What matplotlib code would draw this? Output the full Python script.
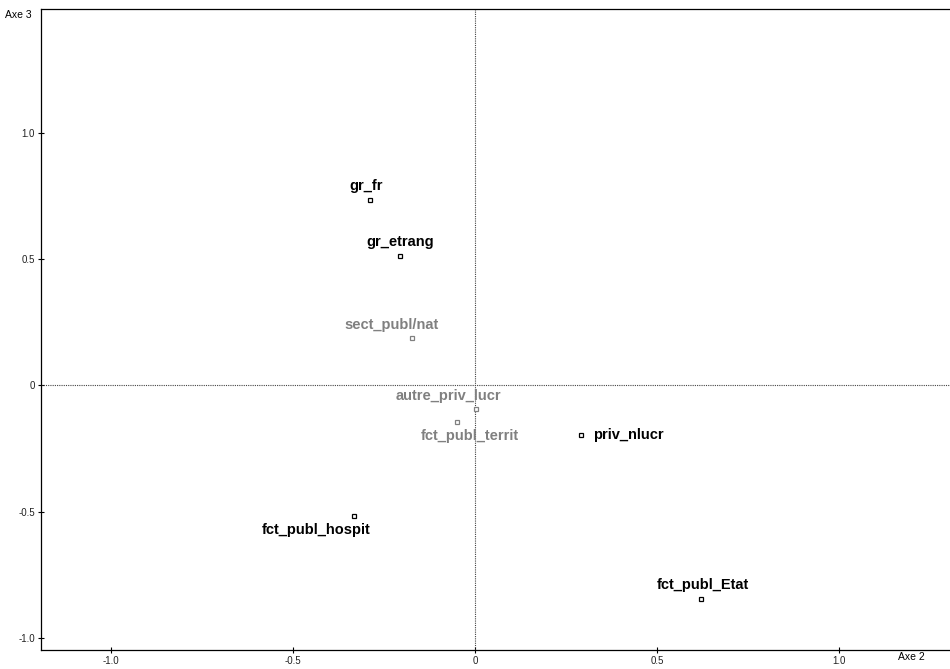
import matplotlib.pyplot as plt

plt.rcParams['font.family'] = ['Liberation Sans', 'DejaVu Sans']

labels = ["gr_fr", "gr_etrang", "sect_publ/nat", "autre_priv_lucr", "fct_publ_territ",
          "priv_nlucr", "fct_publ_hospit", "fct_publ_Etat"]
axe2 = [-0.288, -0.206, -0.173, 0.003, -0.049, 0.291, -0.332, 0.621]
axe3 = [0.735, 0.514, 0.186, -0.095, -0.146, -0.198, -0.518, -0.846]
active = [True, True, False, False, False, True, True, True]

# label placement: (dx, dy) in points, ha, va
place = [(-3, 5, "center", "bottom"), (0, 5, "center", "bottom"), (-15, 5, "center", "bottom"),
         (-20, 5, "center", "bottom"), (9, -5, "center", "top"), (9, 0, "left", "center"),
         (-27, -5, "center", "top"), (1, 5, "center", "bottom")]

fig = plt.figure(figsize=(9.5, 6.69), dpi=100)
ax = fig.add_axes([41 / 950, 19 / 669, 1 - 41 / 950, 1 - 28 / 669])

ax.axhline(0, color="#444444", lw=0.8, ls=(0, (1, 1)))
ax.axvline(0, color="#444444", lw=0.8, ls=(0, (1, 1)))

for name, x, y, act, (dx, dy, ha, va) in zip(labels, axe2, axe3, active, place):
    col = "black" if act else "#808080"
    ax.plot(x, y, marker="s", ms=3.5, mfc="white", mec=col, mew=0.9, ls="none")
    ax.annotate(name, (x, y), xytext=(dx, dy), textcoords="offset points",
                ha=ha, va=va, fontsize=10.5, fontweight="bold", color=col)

ax.set_xlim(-1.192, 1.305)
ax.set_ylim(-1.047, 1.49)
ax.set_xticks([-1.0, -0.5, 0, 0.5, 1.0])
ax.set_xticklabels(["-1.0", "-0.5", "0", "0.5", "1.0"])
ax.set_yticks([-1.0, -0.5, 0, 0.5, 1.0])
ax.set_yticklabels(["-1.0", "-0.5", "0", "0.5", "1.0"])
ax.tick_params(direction="inout", length=5, width=0.8, labelsize=7, pad=2,
               labelcolor="#222222")
ax.spines["right"].set_visible(False)
for s in ["left", "bottom", "top"]:
    ax.spines[s].set_linewidth(0.9)

fig.text(5 / 950, 1 - 15 / 669, "Axe 3", fontsize=7.5, va="center", ha="left")
fig.text(898 / 950, 1 - 657 / 669, "Axe 2", fontsize=7.5, va="center", ha="left")

fig.savefig("out.png", dpi=100)
